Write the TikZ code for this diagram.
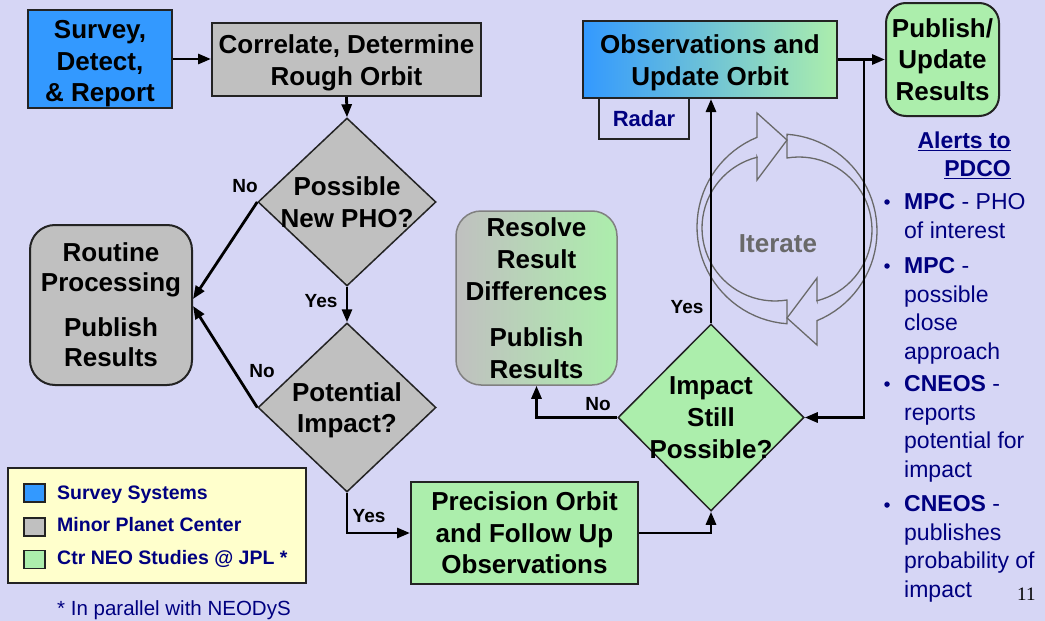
\documentclass[tikz,border=0pt]{standalone}
\usepackage{fontspec}
\setmainfont{Liberation Sans}
\newfontfamily\pagefont{Liberation Serif}
\usetikzlibrary{shapes.geometric,arrows.meta}

\definecolor{bglavender}{RGB}{214,214,245}
\definecolor{surveyblue}{RGB}{51,153,255}
\definecolor{obscyan}{RGB}{140,218,234}
\definecolor{mpcgray}{RGB}{192,192,192}
\definecolor{jplgreen}{RGB}{172,238,172}
\definecolor{legendyellow}{RGB}{255,255,204}
\definecolor{navytext}{RGB}{0,0,128}
\definecolor{edgecol}{RGB}{35,35,35}
\definecolor{iterategray}{RGB}{105,105,105}

\tikzset{
  flow/.style={line width=2.8pt, -{Triangle[length=13pt,width=10pt]}},
  boxtext/.style={font=\fontsize{26}{31.5}\selectfont\bfseries, align=center, text=black},
  procbox/.style={boxtext, draw=edgecol, line width=2pt, inner sep=0pt},
  roundbox/.style={procbox, rounded corners=25pt},
  decision/.style={diamond, draw=edgecol, line width=1.5pt, fill=mpcgray, inner sep=0pt,
    minimum width=178, minimum height=168},
  answer/.style={font=\fontsize{19}{22}\selectfont\bfseries, anchor=base, inner sep=0pt},
  keybox/.style={draw=edgecol, line width=1.5pt, minimum width=21, minimum height=18, inner sep=0pt},
  keytext/.style={font=\fontsize{19.5}{23}\selectfont\bfseries, text=navytext, anchor=base west, inner sep=0pt},
  alert/.style={font=\fontsize{23}{28.5}\selectfont, text=navytext, align=left, anchor=north west, inner sep=0pt},
  alertdot/.style={circle, fill=navytext, inner sep=0pt, minimum size=5.5},
  iterline/.style={draw=iterategray, line width=1.3pt},
}

\begin{document}
\begin{tikzpicture}[x=1pt,y=-1pt]
  \useasboundingbox (0,0) rectangle (1045,621);
  \fill[bglavender] (0,0) rectangle (1045,621);

  % iterate cycle, two curved arrows
  \foreach \turn in {0,180} {
    \begin{scope}[rotate around={\turn:(787,229)}]
      \draw[iterline] plot[domain=94.2:247.6, samples=40] ({794+97*cos(\x)},{227+97*sin(\x)})
        -- (757,113) -- (787,140) -- (757,180) -- (757,157)
        -- plot[domain=255.8:80.5, samples=40] ({775+73*cos(\x)},{228+73*sin(\x)}) -- cycle;
    \end{scope}
  }
  \node[font=\fontsize{26}{30}\selectfont\bfseries, text=iterategray] (iterate) at (778,244) {Iterate};

  % process boxes
  \node[procbox, fill=surveyblue, minimum width=144, minimum height=98] (survey) at (100,59) {};
  \node[boxtext] (surveytext) at ([yshift=-5pt]survey.center) {Survey,\\Detect,\\\& Report};
  \node[procbox, fill=mpcgray, minimum width=269, minimum height=73] (correlate) at (346.5,59.5) {};
  \node[boxtext] (correlatetext) at ([yshift=-3.5pt]correlate.center) {Correlate, Determine\\Rough Orbit};
  \node[roundbox, fill=mpcgray, minimum width=162, minimum height=160,
    font=\fontsize{26}{30}\selectfont\bfseries] (routine) at (111,305) {Routine\\Processing\\[15pt]Publish\\Results};
  \node[procbox, fill=jplgreen, minimum width=227, minimum height=102] (precise) at (524.5,533) {Precision Orbit\\and Follow Up\\Observations};
  \node[roundbox, draw=gray, line width=1.5pt, left color=mpcgray, right color=jplgreen, minimum width=161, minimum height=174,
    font=\fontsize{26}{32}\selectfont\bfseries] (resolve) at (536.5,298) {Resolve\\Result\\Differences\\[14pt]Publish\\Results};
  \node[procbox, left color=surveyblue, middle color=obscyan, right color=jplgreen, minimum width=254, minimum height=77] (observe) at (710,59.5) {};
  \node[boxtext] (observetext) at ([yshift=-3.5pt]observe.center) {Observations and\\Update Orbit};
  \node[draw=edgecol, line width=1.8pt, fill=bglavender, minimum width=90, minimum height=41, inner sep=0pt,
    font=\fontsize{22}{26}\selectfont\bfseries, text=navytext] (radar) at (644,118.5) {Radar};
  \node[roundbox, rounded corners=20pt, fill=jplgreen, minimum width=113, minimum height=113] (publish) at (942.5,59.5) {Publish/\\Update\\Results};

  % decisions
  \node[decision] (pho) at (347,202) {};
  \node[boxtext] (photext) at (pho) {Possible\\New PHO?};
  \node[decision, minimum height=169] (impact) at (347,407.5) {};
  \node[boxtext, yshift=-3pt] (impacttext) at (impact) {Potential\\Impact?};
  \node[decision, fill=jplgreen, minimum width=186, minimum height=187] (still) at (711,417.5) {};
  \node[boxtext, font=\fontsize{26}{32}\selectfont\bfseries] (stilltext) at (still) {Impact\\Still\\Possible?};

  % connectors
  \draw[flow] (survey.east) -- (survey.east -| correlate.west);
  \draw[flow] (correlate.south) -- (pho.north);
  \draw[flow] (pho.south) -- (impact.north);
  \draw[flow] (pho.west) -- ([yshift=6pt]routine.east);
  \draw[flow] (impact.west) -- ([yshift=-1pt]routine.east);
  \draw[flow] (impact.south) |- (precise.west);
  \draw[flow] (precise.east) -| (still.south);
  \draw[flow] (still.west) -| (resolve.south);
  \draw[flow] (still.north) -- (still.north |- observe.south);
  \draw[flow] (observe.east) -- (publish.west);
  \coordinate (loopback) at (864,59.5);
  \draw[flow] (loopback) |- (still.east);

  \node[answer] (no1) at (245,192) {No};
  \node[answer] (yes1) at (321,307) {Yes};
  \node[answer] (no2) at (262,377) {No};
  \node[answer] (yes2) at (369,522) {Yes};
  \node[answer] (yes3) at (687,313) {Yes};
  \node[answer] (no3) at (598,410) {No};

  % legend
  \node[draw=edgecol, line width=1.8pt, fill=legendyellow, minimum width=298, minimum height=115, inner sep=0pt] (legend) at (157,525.5) {};
  \node[keybox, fill=surveyblue] (keysurvey) at (34.5,493) {};
  \node[keybox, fill=mpcgray] (keympc) at (34.5,527) {};
  \node[keybox, fill=jplgreen] (keyjpl) at (34.5,559.5) {};
  \node[keytext] (txtsurvey) at (57,499) {Survey Systems};
  \node[keytext] (txtmpc) at (57,531) {Minor Planet Center};
  \node[keytext] (txtjpl) at (57,564) {Ctr NEO Studies @ JPL *};
  \node[font=\fontsize{20.5}{24}\selectfont, text=navytext, anchor=base west, inner sep=0pt] (footnote) at (57,615) {* In parallel with NEODyS};

  % alerts column
  \node[font=\fontsize{23}{28}\selectfont\bfseries, text=navytext, align=right, anchor=north east, inner sep=0pt]
    (alerthead) at (1011,132) {\underline{Alerts to}\\\underline{PDCO}};
  \node[alertdot] (dot1) at (887,202) {};
  \node[alertdot] (dot2) at (887,266) {};
  \node[alertdot] (dot3) at (887,384) {};
  \node[alertdot] (dot4) at (887,505) {};
  \node[alert] (alert1) at (904,193.5) {\textbf{MPC} - PHO\\of interest};
  \node[alert] (alert2) at (904,257.5) {\textbf{MPC} -\\possible\\close\\approach};
  \node[alert] (alert3) at (904,375.5) {\textbf{CNEOS} -\\reports\\potential for\\impact};
  \node[alert] (alert4) at (904,495.5) {\textbf{CNEOS} -\\publishes\\probability of\\impact};
  \node[font=\pagefont\fontsize{19}{22}\selectfont, anchor=base west, inner sep=0pt] (pagenum) at (1017,600) {11};
\end{tikzpicture}
\end{document}
